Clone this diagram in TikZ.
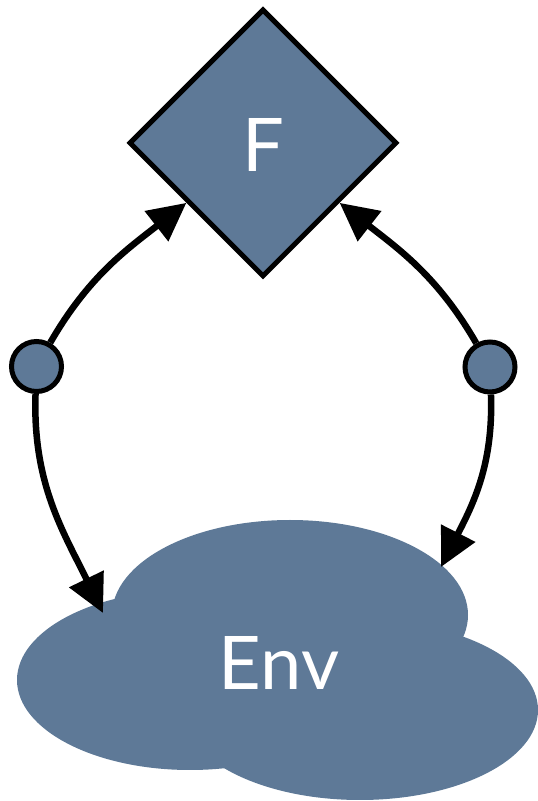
\documentclass[tikz,border=0pt]{standalone}
\usepackage{fontspec}
\setmainfont{Lato}
\usetikzlibrary{arrows.meta,shapes.geometric}
\definecolor{slate}{RGB}{94,121,151}
\begin{document}
\begin{tikzpicture}[x=1pt,y=1pt,
  box/.style={diamond, draw=black, line width=5pt, fill=slate, inner sep=0pt,
    minimum width=268pt, minimum height=268pt, aspect=1},
  port/.style={circle, draw=black, line width=5pt, fill=slate, inner sep=0pt,
    minimum size=50pt},
  caption/.style={text=white, inner sep=0pt},
  link/.style={line width=6.5pt, -{Triangle[length=38pt,width=37pt]}},
  lobe/.style={fill=slate}]
\useasboundingbox (0,0) rectangle (538,801);

% environment cloud built from three overlapping ellipses
\fill[lobe] (290,186) ellipse [x radius=178, y radius=95];
\fill[lobe] (190,121) ellipse [x radius=173, y radius=90];
\fill[lobe] (360,91) ellipse [x radius=178, y radius=90];
\node[caption, font=\fontsize{74}{78}\selectfont] (env) at (279,138) {Env};
\coordinate (envL) at (103,188);
\coordinate (envR) at (441,234);

% function box and its two ports
\node[box] (F) at (263,658) {};
\node[caption, font=\fontsize{74}{78}\selectfont] (Flabel) at (263,656) {F};
\node[port] (lc) at (36.5,434.5) {};
\node[port] (rc) at (490,434) {};

% connectors
\draw[link] (lc) to[out=60,in=218] (F);
\draw[link] (rc) to[out=120,in=-38] (F);
\draw[link] (lc) to[out=-92,in=116] (envL);
\draw[link] (rc) to[out=-88,in=63] (envR);
\end{tikzpicture}
\end{document}
